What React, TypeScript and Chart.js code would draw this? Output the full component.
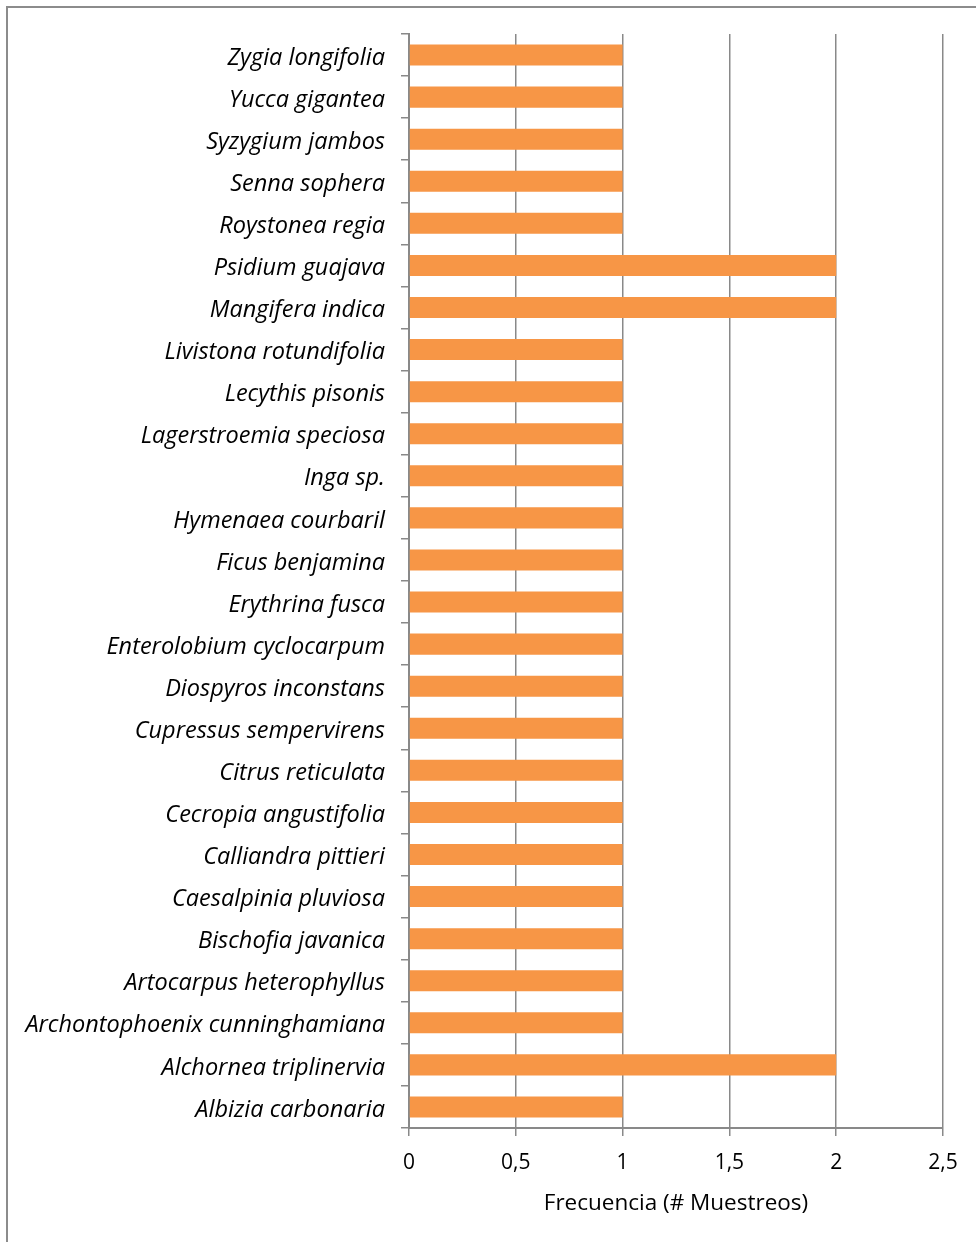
import React, { useEffect, useRef } from "react";
import { Chart, registerables } from "chart.js";

Chart.register(...registerables);

const categories = [
  "Zygia longifolia",
  "Yucca gigantea",
  "Syzygium jambos",
  "Senna sophera",
  "Roystonea regia",
  "Psidium guajava",
  "Mangifera indica",
  "Livistona rotundifolia",
  "Lecythis pisonis",
  "Lagerstroemia speciosa",
  "Inga sp.",
  "Hymenaea courbaril",
  "Ficus benjamina",
  "Erythrina fusca",
  "Enterolobium cyclocarpum",
  "Diospyros inconstans",
  "Cupressus sempervirens",
  "Citrus reticulata",
  "Cecropia angustifolia",
  "Calliandra pittieri",
  "Caesalpinia pluviosa",
  "Bischofia javanica",
  "Artocarpus heterophyllus",
  "Archontophoenix cunninghamiana",
  "Alchornea triplinervia",
  "Albizia carbonaria",
];

const frecuencia = [1, 1, 1, 1, 1, 2, 2, 1, 1, 1, 1, 1, 1, 1, 1, 1, 1, 1, 1, 1, 1, 1, 1, 1, 2, 1];

const xTicks = [0, 0.5, 1, 1.5, 2, 2.5];
const xTitle = "Frecuencia (# Muestreos)";

const FONT = "'Open Sans', Lato, sans-serif";
const GRID = "#898989";

export default function App() {
  const ref = useRef<HTMLCanvasElement | null>(null);

  useEffect(() => {
    if (!ref.current) return;
    const chart = new Chart(ref.current, {
      type: "bar",
      data: {
        labels: categories,
        datasets: [
          {
            data: frecuencia,
            backgroundColor: "#F79646",
            borderWidth: 0,
            barPercentage: 0.5,
            categoryPercentage: 1,
          },
        ],
      },
      options: {
        indexAxis: "y",
        responsive: false,
        animation: false,
        layout: { padding: { top: 34, right: 33, left: 0, bottom: 0 } },
        plugins: { legend: { display: false }, tooltip: { enabled: false } },
        scales: {
          x: {
            min: 0,
            max: 2.5,
            afterBuildTicks: (s: any) => {
              s.ticks = xTicks.map((v) => ({ value: v }));
            },
            afterFit: (s: any) => {
              s.height = 1242 - 1128;
            },
            ticks: {
              color: "#000",
              font: { family: FONT, size: 21 },
              padding: 14,
              callback: (v: any) => String(v).replace(".", ","),
            },
            grid: {
              color: GRID,
              lineWidth: 1.5,
              tickLength: 8,
              drawTicks: true,
            },
            border: { display: true, color: GRID, width: 2 },
            title: {
              display: true,
              text: xTitle,
              color: "#000",
              font: { family: FONT, size: 22.5 },
              padding: { top: 8, bottom: 25 },
            },
          },
          y: {
            afterFit: (s: any) => {
              s.width = 409;
            },
            ticks: {
              color: "#000",
              font: { family: FONT, size: 23.5, style: "italic" },
              padding: 16,
              labelOffset: 3,
            },
            grid: {
              offset: true,
              drawOnChartArea: false,
              color: GRID,
              lineWidth: 1.5,
              tickLength: 8,
            },
            border: { display: true, color: GRID, width: 2 },
          },
        },
      },
    });
    return () => chart.destroy();
  }, []);

  return (
    <div style={{ position: "fixed", left: 0, top: 0, width: 976, height: 1242, overflow: "hidden", background: "#fff" }}>
      <div
        style={{
          position: "absolute",
          left: 6,
          top: 6,
          width: 1100,
          height: 1400,
          borderLeft: "2px solid #8c8c8c",
          borderTop: "2px solid #8c8c8c",
          boxSizing: "border-box",
        }}
      />
      <canvas ref={ref} width={976} height={1242} style={{ position: "absolute", left: 0, top: 0, width: 976, height: 1242 }} />
    </div>
  );
}
